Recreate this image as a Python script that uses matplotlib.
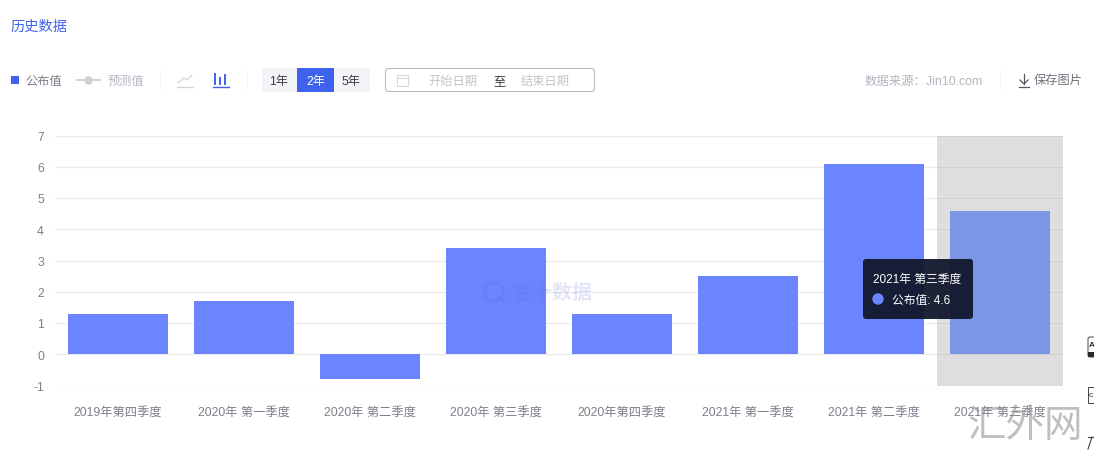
import matplotlib
matplotlib.use('Agg')
import matplotlib.pyplot as plt
from matplotlib.patches import Rectangle, FancyBboxPatch, Circle

plt.rcParams['font.family'] = ['Liberation Sans', 'Noto Sans CJK SC']
plt.rcParams['axes.unicode_minus'] = False

# chart values
quarters = ['2019年第四季度', '2020年 第一季度', '2020年 第二季度', '2020年 第三季度',
            '2020年第四季度', '2021年 第一季度', '2021年 第二季度', '2021年 第三季度']
published = [1.3, 1.7, -0.8, 3.4, 1.3, 2.5, 6.1, 4.6]
y_ticks = [-1, 0, 1, 2, 3, 4, 5, 6, 7]
active = 7

W, H = 1094, 456
BLUE = '#6b85ff'
ACCENT = '#3f62ee'
GREY = '#7f7f8c'
PALE = '#b4b4c0'

fig = plt.figure(figsize=(W / 100, H / 100), dpi=100, facecolor='white')

# main plot, one category band is 126 px wide
ax = fig.add_axes([55 / W, (H - 386.5) / H, 1008 / W, 250 / H])
ax.set_xlim(-0.5, len(quarters) - 0.5)
ax.set_ylim(y_ticks[0], y_ticks[-1])
ax.set_yticks(y_ticks)
ax.set_xticks(range(len(quarters)))
ax.set_xticklabels(quarters, fontsize=8.8, color=GREY)
ax.tick_params(axis='both', length=0, labelsize=8.8, labelcolor=GREY)
ax.tick_params(axis='x', pad=15)
ax.tick_params(axis='y', pad=8)
for s in ax.spines.values():
    s.set_visible(False)
ax.grid(axis='y', color='#ececec', linewidth=0.8)
ax.set_axisbelow(True)

ax.axvspan(active - 0.5, active + 0.5, color='#8a8a8a', alpha=0.28, linewidth=0, zorder=1.5)
colors = ['#7b96e6' if i == active else BLUE for i in range(len(quarters))]
ax.bar(range(len(quarters)), published, width=100 / 126, color=colors, zorder=2)

# page furniture drawn in pixel coordinates
ui = fig.add_axes([0, 0, 1, 1], facecolor='none')
ui.set_xlim(0, W)
ui.set_ylim(H, 0)
ui.axis('off')


def label(x, y, s, size=12.2, color=GREY, ha='left', **kw):
    ui.text(x, y, s, fontsize=size * 0.72, color=color, ha=ha, va='center', **kw)


# watermark behind the tooltip
ui.add_patch(Circle((494, 293), 9.5, fill=False, ec='#4f66d8', lw=2.2, alpha=0.16))
ui.plot([497, 504], [296, 303], color='#4f66d8', lw=2.2, alpha=0.16)
label(513, 293.5, '金十数据', size=20, color='#5a6bd0', alpha=0.17, fontweight='bold')

label(10.5, 26.5, '历史数据', size=14.2, color=ACCENT)

# legend row
ui.add_patch(Rectangle((11, 77), 8, 8, fc=ACCENT, ec='none'))
label(25, 82, '公布值')
ui.plot([77, 100], [81, 81], color='#cfcfd4', lw=1.3)
ui.plot([88], [81], 'o', color='#cfcfd4', ms=5)
label(107, 82, '预测值', color=PALE)
for x in (160, 247, 1000):
    ui.plot([x, x], [72, 90], color='#f2f2f4', lw=0.8)

# line and bar icons
ui.plot([178, 184, 187, 192], [84, 79, 81, 76], color='#d4d4d8', lw=0.9)
ui.plot([177, 193], [88, 88], color='#d4d4d8', lw=0.9)
for x, top in ((215, 75), (220, 79), (225, 76)):
    ui.plot([x, x], [top, 85], color=ACCENT, lw=1.4)
ui.plot([213, 229], [88, 88], color=ACCENT, lw=1)

# range buttons
ui.add_patch(FancyBboxPatch((262, 69), 108, 24, boxstyle='round,pad=0,rounding_size=2',
                            fc='#f3f4f8', ec='none'))
ui.add_patch(Rectangle((297, 69), 37, 24, fc=ACCENT, ec='none'))
label(279, 82, '1年', color='#3c3c44', ha='center')
label(315.5, 82, '2年', color='white', ha='center')
label(351, 82, '5年', color='#3c3c44', ha='center')

# date range box
ui.add_patch(FancyBboxPatch((385.5, 69.5), 209, 23, boxstyle='round,pad=0,rounding_size=3',
                            fc='white', ec='#bcbcc0', lw=0.8))
ui.add_patch(Rectangle((397, 76), 11, 11, fill=False, ec='#d8d8dc', lw=0.8))
ui.plot([397, 408], [79, 79], color='#d8d8dc', lw=0.8)
label(428, 82, '开始日期', color='#c4c4cb')
label(500, 82, '至', color='#3c3c44', ha='center')
label(521, 82, '结束日期', color='#c4c4cb')

# right hand header
label(865, 82, '数据来源：Jin10.com', size=12.4, color=PALE)
ui.plot([1024, 1024], [75, 85], color='#55555f', lw=0.9)
ui.plot([1020, 1024, 1028], [81, 85, 81], color='#55555f', lw=0.9)
ui.plot([1019, 1029], [87.5, 87.5], color='#55555f', lw=0.9)
label(1034, 80.5, '保存图片', color='#70707a')

# tooltip for the hovered bar
ui.add_patch(FancyBboxPatch((863, 260), 110, 60, boxstyle='round,pad=0,rounding_size=3',
                            fc='#12182c', ec='none', alpha=0.95, zorder=5))
ui.text(873, 279.5, quarters[active], fontsize=8.5, color='white', va='center', zorder=6)
ui.add_patch(Circle((878, 300), 5, color=BLUE, zorder=6))
ui.text(892, 301.5, f'公布值: {published[active]}', fontsize=8.5, color='white', va='center', zorder=6)

# clipped side widgets on the right edge
ui.add_patch(FancyBboxPatch((1088, 338), 12, 20, boxstyle='round,pad=0,rounding_size=2',
                            fc='white', ec='#444444', lw=0.7))
ui.text(1088.5, 346, 'A', fontsize=6, color='#2a2a2a', va='center', fontweight='bold')
ui.add_patch(Rectangle((1088, 353), 8, 5, fc='#2a2a2a', ec='none'))
ui.add_patch(Rectangle((1088, 388), 10, 16, fill=False, ec='#444444', lw=0.7))
ui.text(1089, 396, 'c', fontsize=6, color='#333333', va='center')
ui.plot([1088, 1094], [438, 438], color='#444444', lw=0.8)
ui.plot([1092, 1088], [438, 450], color='#444444', lw=0.8)

# site stamp over the corner
label(967, 427, '汇外网', size=38.5, color='#8c8c8c', alpha=0.55, fontweight='light', zorder=7)

fig.savefig('out.png', dpi=100)
